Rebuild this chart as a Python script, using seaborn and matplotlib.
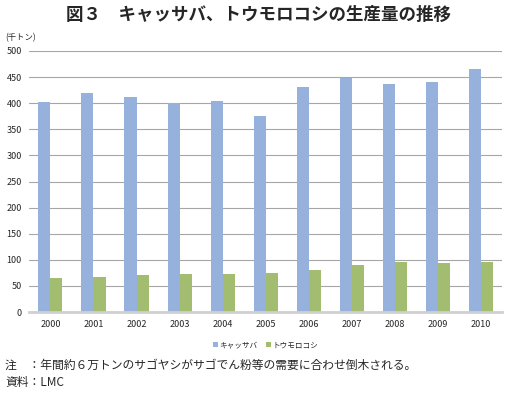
import matplotlib
matplotlib.use("Agg")
import matplotlib.pyplot as plt
import pandas as pd
import seaborn as sns

years = [str(y) for y in range(2000, 2011)]
cassava = [403, 420, 412, 400, 405, 376, 431, 448, 436, 441, 466]
maize = [65, 68, 70, 72, 72, 75, 80, 91, 96, 94, 96]
series_names = ["キャッサバ", "トウモロコシ"]
colors = ["#95B1DC", "#A2BD6F"]

df = pd.DataFrame({
    "year": years * 2,
    "value": cassava + maize,
    "crop": [series_names[0]] * len(years) + [series_names[1]] * len(years),
})

sns.set_theme(style="white")
plt.rcParams["font.family"] = ["Noto Sans CJK JP", "DejaVu Sans"]

fig = plt.figure(figsize=(5.07, 3.95), dpi=100)
ax = fig.add_axes([0.057, 0.21, 0.934, 0.661])

sns.barplot(data=df, x="year", y="value", hue="crop", palette=colors,
            width=0.56, gap=0, saturation=1, linewidth=0, ax=ax, legend=True)

ax.set_ylim(0, 500)
ax.set_xlim(-0.5, 10.5)
ax.set_yticks(range(0, 501, 50))
ax.yaxis.grid(True, color="#A6A6A6", linewidth=0.8)
ax.set_axisbelow(True)
for side in ["top", "right", "left"]:
    ax.spines[side].set_visible(False)
ax.spines["bottom"].set_color("#D0D0D0")
ax.spines["bottom"].set_linewidth(2)
ax.tick_params(axis="both", length=0, labelsize=6.5, pad=6)
ax.tick_params(axis="y", pad=5)
ax.set_xlabel("")
ax.set_ylabel("")

leg = ax.legend(loc="upper center", bbox_to_anchor=(0.5, -0.085), ncol=2,
                frameon=False, fontsize=5.5, handlelength=0.6, handleheight=0.6,
                handletextpad=0.2, columnspacing=1.2)

fig.text(0.51, 0.962, "図３　キャッサバ、トウモロコシの生産量の推移", ha="center", va="center",
         fontsize=12.6, fontweight="bold")
fig.text(0.01, 0.905, "(千トン)", ha="left", va="center", fontsize=6)
fig.text(0.01, 0.075, "注　：年間約６万トンのサゴヤシがサゴでん粉等の需要に合わせ倒木される。",
         ha="left", va="center", fontsize=8.5)
fig.text(0.01, 0.032, "資料：LMC", ha="left", va="center", fontsize=8.5)

fig.savefig("out.png", dpi=100)
